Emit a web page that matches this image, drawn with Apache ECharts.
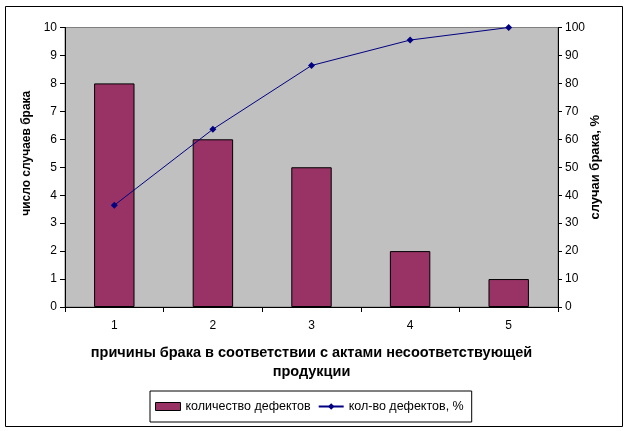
<!DOCTYPE html>
<html><head><meta charset="utf-8">
<script src="https://cdn.jsdelivr.net/npm/echarts@6/dist/echarts.min.js"></script>
<style>html,body{margin:0;padding:0;background:#fff}#c{width:631px;height:431px}</style>
</head><body><div id="c"></div>
<script>
var categories = ['1','2','3','4','5'];
var defectCounts = [8, 6, 5, 2, 1];
var defectPercent = [36.4, 63.6, 86.4, 95.5, 100];
var leftTicks = {min:0, max:10, interval:1};
var rightTicks = {min:0, max:100, interval:10};
var font = 'Arial, "Liberation Sans", sans-serif';
var chart = echarts.init(document.getElementById('c'), null, {renderer:'canvas'});
chart.setOption({
  animation:false,
  backgroundColor:'#fff',
  textStyle:{fontFamily:font},
  graphic:[{type:'rect', shape:{x:5.5,y:6.5,width:617,height:420}, style:{fill:'none', stroke:'#000', lineWidth:1}, silent:true}],
  grid:{left:65, right:73, top:27.5, bottom:124, show:true, backgroundColor:'#C0C0C0', borderColor:'#808080', borderWidth:1},
  legend:{
    bottom:9, left:150,
    data:[{name:'количество дефектов', icon:'rect', itemStyle:{borderColor:'#000', borderWidth:1}}, {name:'кол-во дефектов, %'}],
    itemWidth:25, itemHeight:8, itemGap:7,
    borderColor:'#000', borderWidth:1, padding:[9,8,9,5],
    textStyle:{fontFamily:font, fontSize:12.5, color:'#000'}
  },
  xAxis:{
    type:'category', data:categories,
    name:'причины брака в соответствии с актами несоответствующей\nпродукции',
    nameLocation:'middle', nameGap:36.5,
    nameTextStyle:{fontFamily:font, fontSize:14.5, fontWeight:'bold', color:'#000', lineHeight:19},
    axisLine:{lineStyle:{color:'#000'}},
    axisTick:{show:true, length:5, lineStyle:{color:'#000'}},
    axisLabel:{color:'#000', fontSize:12, margin:13, fontFamily:font}
  },
  yAxis:[{
    type:'value', min:leftTicks.min, max:leftTicks.max, interval:leftTicks.interval,
    name:'число случаев брака', nameLocation:'middle', nameGap:31, nameRotate:90,
    nameTextStyle:{fontFamily:font, fontSize:12, fontWeight:'bold', color:'#000', padding:[0,0,0,28]},
    axisLine:{show:true, lineStyle:{color:'#000'}},
    axisTick:{show:true, length:5, lineStyle:{color:'#000'}},
    axisLabel:{color:'#000', fontSize:12, margin:8, fontFamily:font},
    splitLine:{show:false}
  },{
    type:'value', min:rightTicks.min, max:rightTicks.max, interval:rightTicks.interval, position:'right',
    name:'случаи брака, %', nameLocation:'middle', nameGap:31, nameRotate:90, nameMoveOverlap:false,
    nameTextStyle:{fontFamily:font, fontSize:13, fontWeight:'bold', color:'#000'},
    axisLine:{show:true, lineStyle:{color:'#000'}},
    axisTick:{show:true, length:4, lineStyle:{color:'#000'}},
    axisLabel:{color:'#000', fontSize:12, margin:7, fontFamily:font},
    splitLine:{show:false}
  }],
  series:[{
    name:'количество дефектов', type:'bar', data:defectCounts, barWidth:'41%',
    itemStyle:{color:'#993366', borderColor:'#000', borderWidth:1}
  },{
    name:'кол-во дефектов, %', type:'line', yAxisIndex:1, data:defectPercent,
    symbol:'diamond', symbolSize:7,
    lineStyle:{color:'#000080', width:1}, itemStyle:{color:'#000080'}
  }]
});
</script></body></html>
